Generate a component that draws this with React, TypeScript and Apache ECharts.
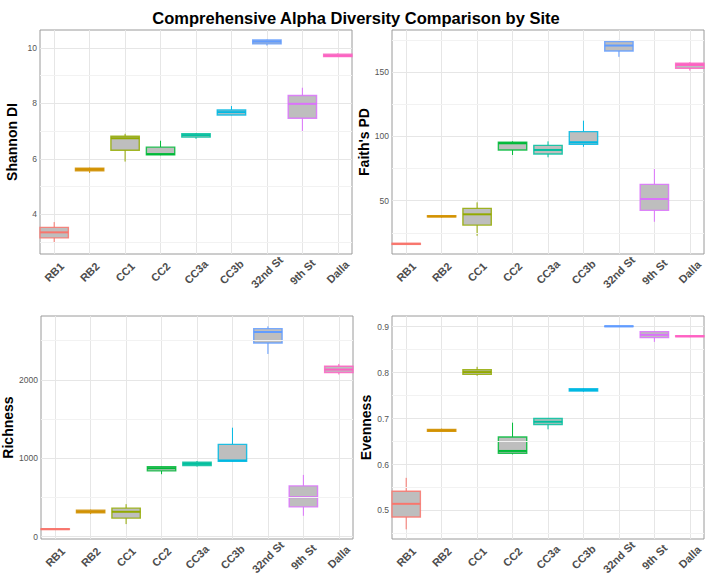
import React, { useEffect, useRef } from "react";
import * as echarts from "echarts";

// Sampling sites, in plotting order, and their hue colours
const sites = ["RB1", "RB2", "CC1", "CC2", "CC3a", "CC3b", "32nd St", "9th St", "Dalla"];
const siteColors = ["#F8766D", "#D39200", "#93AA00", "#00BA38", "#00C19F", "#00B9E3", "#619CFF", "#DB72FB", "#FF61C3"];

// Box statistics per site: [lower whisker, Q1, median, Q3, upper whisker]
const shannonStats = [
  [2.97, 3.15, 3.35, 3.53, 3.72],
  [5.49, 5.57, 5.62, 5.66, 5.68],
  [5.9, 6.31, 6.74, 6.81, 6.9],
  [6.13, 6.14, 6.17, 6.42, 6.65],
  [6.72, 6.78, 6.85, 6.9, 6.92],
  [7.57, 7.58, 7.68, 7.76, 7.9],
  [10.08, 10.14, 10.22, 10.28, 10.29],
  [6.98, 7.46, 7.98, 8.28, 8.56],
  [9.67, 9.68, 9.72, 9.77, 9.8],
];
const faithStats = [
  [15.8, 16.0, 16.4, 16.8, 17.0],
  [36.9, 37.4, 37.8, 38.3, 38.6],
  [22.7, 31.0, 39.4, 44.0, 48.7],
  [85.6, 89.5, 94.7, 95.5, 96.2],
  [83.8, 86.4, 89.5, 93.1, 96.2],
  [92.0, 93.9, 95.5, 103.8, 112.3],
  [162.0, 166.6, 170.8, 173.9, 175.2],
  [33.6, 42.5, 51.3, 62.7, 74.7],
  [151.3, 153.1, 155.7, 157.0, 157.8],
];
const richnessStats = [
  [88, 92, 97, 101, 104],
  [288, 305, 322, 339, 345],
  [161, 237, 318, 364, 415],
  [797, 839, 873, 894, 900],
  [894, 907, 928, 949, 966],
  [955, 962, 972, 1178, 1390],
  [2330, 2470, 2610, 2653, 2682],
  [267, 381, 504, 648, 788],
  [2068, 2093, 2131, 2174, 2203],
];
const evennessStats = [
  [0.459, 0.486, 0.5145, 0.542, 0.571],
  [0.672, 0.672, 0.674, 0.6765, 0.678],
  [0.793, 0.796, 0.801, 0.806, 0.8125],
  [0.622, 0.6244, 0.6295, 0.66, 0.691],
  [0.6765, 0.687, 0.693, 0.7, 0.701],
  [0.758, 0.7597, 0.762, 0.7647, 0.766],
  [0.899, 0.9, 0.9007, 0.9012, 0.9015],
  [0.8667, 0.876, 0.882, 0.889, 0.89],
  [0.877, 0.878, 0.879, 0.88, 0.881],
];

// Tick values for each metric's y axis (labelled majors and unlabelled minors)
const shannonTicks = [4, 6, 8, 10];
const shannonMinor = [3, 5, 7, 9];
const faithTicks = [50, 100, 150];
const faithMinor = [25, 75, 125, 175];
const richnessTicks = [0, 1000, 2000];
const richnessMinor = [500, 1500, 2500];
const evennessTicks = [0.5, 0.6, 0.7, 0.8, 0.9];
const evennessMinor = [0.45, 0.55, 0.65, 0.75, 0.85];

const FONT = "'Liberation Sans', Arial, Helvetica, sans-serif";
const siteTicks = sites.map((_, i) => i + 1);

type Panel = {
  name: string;
  stats: number[][];
  ticks: number[];
  minor: number[];
  min: number;
  max: number;
  grid: { left: number; top: number; width: number; height: number };
  nameGap: number;
};

const panels: Panel[] = [
  { name: "Shannon DI", stats: shannonStats, ticks: shannonTicks, minor: shannonMinor, min: 2.57, max: 10.64,
    grid: { left: 40, top: 30, width: 312, height: 224 }, nameGap: 21 },
  { name: "Faith's PD", stats: faithStats, ticks: faithTicks, minor: faithMinor, min: 8.5, max: 182.9,
    grid: { left: 392, top: 30, width: 312, height: 224 }, nameGap: 17 },
  { name: "Richness", stats: richnessStats, ticks: richnessTicks, minor: richnessMinor, min: -29, max: 2814,
    grid: { left: 41, top: 316, width: 312, height: 223 }, nameGap: 22 },
  { name: "Evenness", stats: evennessStats, ticks: evennessTicks, minor: evennessMinor, min: 0.438, max: 0.923,
    grid: { left: 392, top: 316, width: 312, height: 223 }, nameGap: 17 },
];

// Draws one ggplot-style box: whiskers without caps, grey body, coloured outline and median.
const renderBox = (params: any, api: any) => {
  const cs = params.coordSys;
  const color = siteColors[params.dataIndex];
  const xi = api.value(0);
  const lo = api.value(1), q1 = api.value(2), med = api.value(3), q3 = api.value(4), hi = api.value(5);
  const cx = api.coord([xi, med])[0];
  const half = api.size([0.8, 0])[0] / 2;
  const left = Math.max(cs.x, cx - half);
  const right = Math.min(cs.x + cs.width, cx + half);
  const yLo = api.coord([xi, lo])[1];
  const yQ1 = api.coord([xi, q1])[1];
  const yMed = api.coord([xi, med])[1];
  const yQ3 = api.coord([xi, q3])[1];
  const yHi = api.coord([xi, hi])[1];
  return {
    type: "group",
    children: [
      { type: "line", shape: { x1: cx, y1: yHi, x2: cx, y2: yQ3 }, style: { stroke: color, lineWidth: 1 } },
      { type: "line", shape: { x1: cx, y1: yQ1, x2: cx, y2: yLo }, style: { stroke: color, lineWidth: 1 } },
      {
        type: "rect",
        shape: { x: left, y: yQ3, width: right - left, height: Math.max(yQ1 - yQ3, 0.5) },
        style: { fill: "#bebebe", stroke: color, lineWidth: 1.4, strokeOpacity: 0.85 },
      },
      { type: "line", shape: { x1: left, y1: yMed, x2: right, y2: yMed }, style: { stroke: color, lineWidth: 2 } },
    ],
  };
};

export default function App() {
  const ref = useRef<HTMLDivElement>(null);

  useEffect(() => {
    document.body.style.margin = "0";
    if (!ref.current) return;
    const chart = echarts.init(ref.current, undefined, { renderer: "svg" });

    const option: any = {
      animation: false,
      backgroundColor: "#ffffff",
      textStyle: { fontFamily: FONT },
      title: {
        text: "Comprehensive Alpha Diversity Comparison by Site",
        left: "center",
        top: 4,
        textStyle: { fontFamily: FONT, fontSize: 16.5, fontWeight: "bold", color: "#000000" },
      },
      grid: panels.map((p) => ({
        ...p.grid,
        show: true,
        borderColor: "#9a9a9a",
        borderWidth: 1,
        backgroundColor: "transparent",
        containLabel: false,
      })),
      xAxis: panels.map((_, i) => ({
        type: "value",
        gridIndex: i,
        min: 0.6,
        max: 9.4,
        axisLine: { show: false },
        axisTick: { show: false, customValues: siteTicks },
        axisLabel: {
          customValues: siteTicks,
          formatter: (v: number) => sites[Math.round(v) - 1] ?? "",
          rotate: 45,
          align: "center",
          verticalAlign: "middle",
          margin: 18,
          fontFamily: FONT,
          fontSize: 11,
          fontWeight: "bold",
          color: "#4d4d4d",
        },
        splitLine: { show: true, lineStyle: { color: "#e6e6e6", width: 1 } },
      })),
      yAxis: panels.map((p, i) => ({
        type: "value",
        gridIndex: i,
        min: p.min,
        max: p.max,
        name: p.name,
        nameLocation: "middle",
        nameGap: p.nameGap,
        nameTextStyle: { fontFamily: FONT, fontSize: 14, fontWeight: "bold", color: "#000000" },
        axisLine: { show: false },
        axisTick: { show: false, customValues: p.ticks },
        axisLabel: {
          customValues: p.ticks,
          formatter: (v: number) => String(v),
          fontFamily: FONT,
          fontSize: 8.5,
          color: "#555555",
          margin: 3,
        },
        splitLine: { show: true, lineStyle: { color: "#e6e6e6", width: 1 } },
      })),
      series: [
        // faint minor grid lines, drawn beneath the boxes
        ...panels.map((p, i) => ({
          type: "line",
          xAxisIndex: i,
          yAxisIndex: i,
          data: [],
          z: 1,
          silent: true,
          markLine: {
            silent: true,
            symbol: "none",
            label: { show: false },
            lineStyle: { color: "#f2f2f2", width: 1, type: "solid" },
            data: p.minor.map((v) => ({ yAxis: v })),
          },
        })),
        ...panels.map((p, i) => ({
          type: "custom",
          xAxisIndex: i,
          yAxisIndex: i,
          z: 3,
          renderItem: renderBox,
          encode: { x: 0, y: [1, 2, 3, 4, 5] },
          data: p.stats.map((s, k) => [siteTicks[k], ...s]),
        })),
      ],
    };

    chart.setOption(option);
    return () => chart.dispose();
  }, []);

  return <div ref={ref} style={{ width: 712, height: 581 }} />;
}
